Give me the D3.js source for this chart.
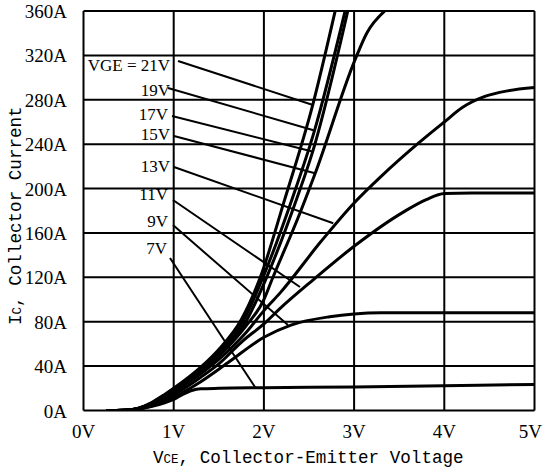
<!DOCTYPE html>
<html>
<head>
<meta charset="utf-8">
<script src="https://cdn.jsdelivr.net/npm/d3@7"></script>
<style>
  html, body { margin: 0; padding: 0; background: #fff; }
  svg { display: block; }
</style>
</head>
<body>
<svg id="chart" width="543" height="472"></svg>
<script>
// ---- Data (VCE in volts, IC in amperes) ----
const xTicks = [0, 1, 2, 3, 4, 5];
const xTickLabels = ["0V", "1V", "2V", "3V", "4V", "5V"];
const yTicks = [0, 40, 80, 120, 160, 200, 240, 280, 320, 360];
const yTickLabels = ["0A", "40A", "80A", "120A", "160A", "200A", "240A", "280A", "320A", "360A"];

const curve7 = [[0.25,0],[0.45,0.2],[0.6,1.2],[0.75,3.5],[0.9,7],[1.0,10],[1.1,14.5],[1.2,18],[1.3,19.5],[1.5,20],[2,20.5],[3,21.2],[4,22.3],[5,23.5]];
const curve9 = [[0.25,0],[0.45,0.2],[0.6,1.3],[0.75,4],[0.9,8.5],[1.0,12],[1.3,26],[1.6,43],[2.0,66],[2.3,77],[2.73,84.5],[3.0,87],[3.3,88],[4,88],[5,88]];
const curve11 = [[0.25,0],[0.45,0.2],[0.6,1.4],[0.75,4.5],[0.9,9.5],[1.0,14],[1.3,30],[1.5,42],[1.77,63],[2.0,78],[2.18,92],[2.55,118],[3.0,148],[3.55,179],[3.8,190],[4.0,195.5],[4.3,196],[5,196]];
const curve13 = [[0.25,0],[0.45,0.2],[0.6,1.5],[0.75,5],[0.9,10.5],[1.0,16],[1.3,33],[1.5,46],[1.8,70],[2.0,90],[2.18,106],[2.63,152],[3.0,187],[3.3,211],[3.7,240],[4.0,260],[4.2,273],[4.45,283],[4.7,288],[5,291]];
const curve15 = [[0.25,0],[0.45,0.2],[0.6,1.6],[0.75,5.5],[0.9,11.5],[1.0,17],[1.3,35],[1.5,49],[1.8,76],[2.0,100],[2.09,118],[2.4,178],[2.57,214],[3.01,316],[3.14,340],[3.34,360]];
const curve17 = [[0.25,0],[0.45,0.2],[0.6,1.7],[0.75,6],[0.9,12.5],[1.0,18],[1.3,37],[1.5,52],[1.8,80],[2.03,120],[2.36,190],[2.54,233],[2.93,360]];
const curve19 = [[0.25,0],[0.45,0.2],[0.6,1.8],[0.75,6.5],[0.9,13.5],[1.0,19],[1.3,38],[1.5,53],[1.78,82],[1.99,120],[2.31,190],[2.56,252],[2.90,360]];
const curve21 = [[0.25,0],[0.45,0.2],[0.6,1.9],[0.75,7],[0.9,14.5],[1.0,20],[1.3,39],[1.5,55],[1.75,82],[1.96,120],[2.23,190],[2.54,275],[2.79,360]];

const seriesNames = ["VGE = 21V", "19V", "17V", "15V", "13V", "11V", "9V", "7V"];
const seriesData = [curve21, curve19, curve17, curve15, curve13, curve11, curve9, curve7];

// label anchors (text right end / baseline) and leader lines, in data units
const labelAt   = [[0.959,305.9],[0.959,283.0],[0.937,261.8],[0.959,243.7],[0.959,214.9],[0.937,189.7],[0.937,165.8],[0.926,141.0]];
const leaderFrom = [[1.048,315.0],[0.937,290.6],[0.981,265.4],[1.003,247.4],[1.003,219.4],[0.992,189.7],[0.992,167.1],[0.959,137.4]];
const leaderTo   = [[2.544,275.3],[2.55,252.5],[2.548,233.2],[2.567,213.8],[2.769,168.7],[2.40,111.3],[2.267,77.0],[1.901,21.2]];

// ---- Drawing ----
const svg = d3.select("#chart");
const x = d3.scaleLinear().domain([0, 5]).range([83.5, 534.5]);
const y = d3.scaleLinear().domain([0, 360]).range([410.5, 11]);

const serif = "'Liberation Serif', 'Times New Roman', serif";
const mono = "'Liberation Mono', 'DejaVu Sans Mono', monospace";

// labels first (grid drawn over them, as in the reference)
const lbl = svg.append("g");
seriesNames.forEach((name, i) => {
  lbl.append("text")
    .attr("x", x(labelAt[i][0]))
    .attr("y", y(labelAt[i][1]))
    .attr("text-anchor", "end")
    .attr("font-family", serif)
    .attr("font-size", 17)
    .attr("fill", "#000")
    .text(name);
});

// grid
const grid = svg.append("g").attr("stroke", "#000").attr("stroke-width", 2);
yTicks.forEach(v => {
  grid.append("line").attr("x1", x(0)).attr("x2", x(5)).attr("y1", y(v)).attr("y2", y(v));
});
xTicks.forEach(v => {
  grid.append("line").attr("x1", x(v)).attr("x2", x(v)).attr("y1", y(0)).attr("y2", y(360));
});

// leader lines
const lead = svg.append("g").attr("stroke", "#000").attr("stroke-width", 2);
leaderFrom.forEach((p, i) => {
  lead.append("line")
    .attr("x1", x(p[0])).attr("y1", y(p[1]))
    .attr("x2", x(leaderTo[i][0])).attr("y2", y(leaderTo[i][1]));
});

// curves
const line = d3.line().x(d => x(d[0])).y(d => y(d[1])).curve(d3.curveMonotoneX);
svg.append("defs").append("clipPath").attr("id", "clip")
  .append("rect").attr("x", x(0)).attr("y", y(360)).attr("width", x(5) - x(0)).attr("height", y(0) - y(360));
svg.append("g").attr("clip-path", "url(#clip)")
  .selectAll("path").data(seriesData).join("path")
  .attr("d", line)
  .attr("fill", "none")
  .attr("stroke", "#000")
  .attr("stroke-width", 3)
  .attr("stroke-linejoin", "round");

// tick labels
svg.append("g").selectAll("text").data(yTicks).join("text")
  .attr("x", 67)
  .attr("y", d => y(d) + 7)
  .attr("text-anchor", "end")
  .attr("font-family", serif)
  .attr("font-size", 19)
  .attr("fill", "#000")
  .text((d, i) => yTickLabels[i]);

svg.append("g").selectAll("text").data(xTicks).join("text")
  .attr("x", (d, i) => i === xTicks.length - 1 ? 542 : x(d))
  .attr("y", 438)
  .attr("text-anchor", (d, i) => i === xTicks.length - 1 ? "end" : "middle")
  .attr("font-family", serif)
  .attr("font-size", 19)
  .attr("fill", "#000")
  .text((d, i) => xTickLabels[i]);

// axis titles
const xt = svg.append("text")
  .attr("x", 153).attr("y", 463)
  .attr("font-family", mono).attr("font-size", 17.6).attr("fill", "#000")
  .attr("xml:space", "preserve");
xt.append("tspan").text("V");
xt.append("tspan").attr("font-size", 12.5).text("CE");
xt.append("tspan").text(", Collector-Emitter Voltage");

const yt = svg.append("text")
  .attr("transform", "translate(21,325) rotate(-90)")
  .attr("font-family", mono).attr("font-size", 17.6).attr("fill", "#000");
yt.append("tspan").text("I");
yt.append("tspan").attr("font-size", 12.5).text("C");
yt.append("tspan").text(", Collector Current");
</script>
</body>
</html>
